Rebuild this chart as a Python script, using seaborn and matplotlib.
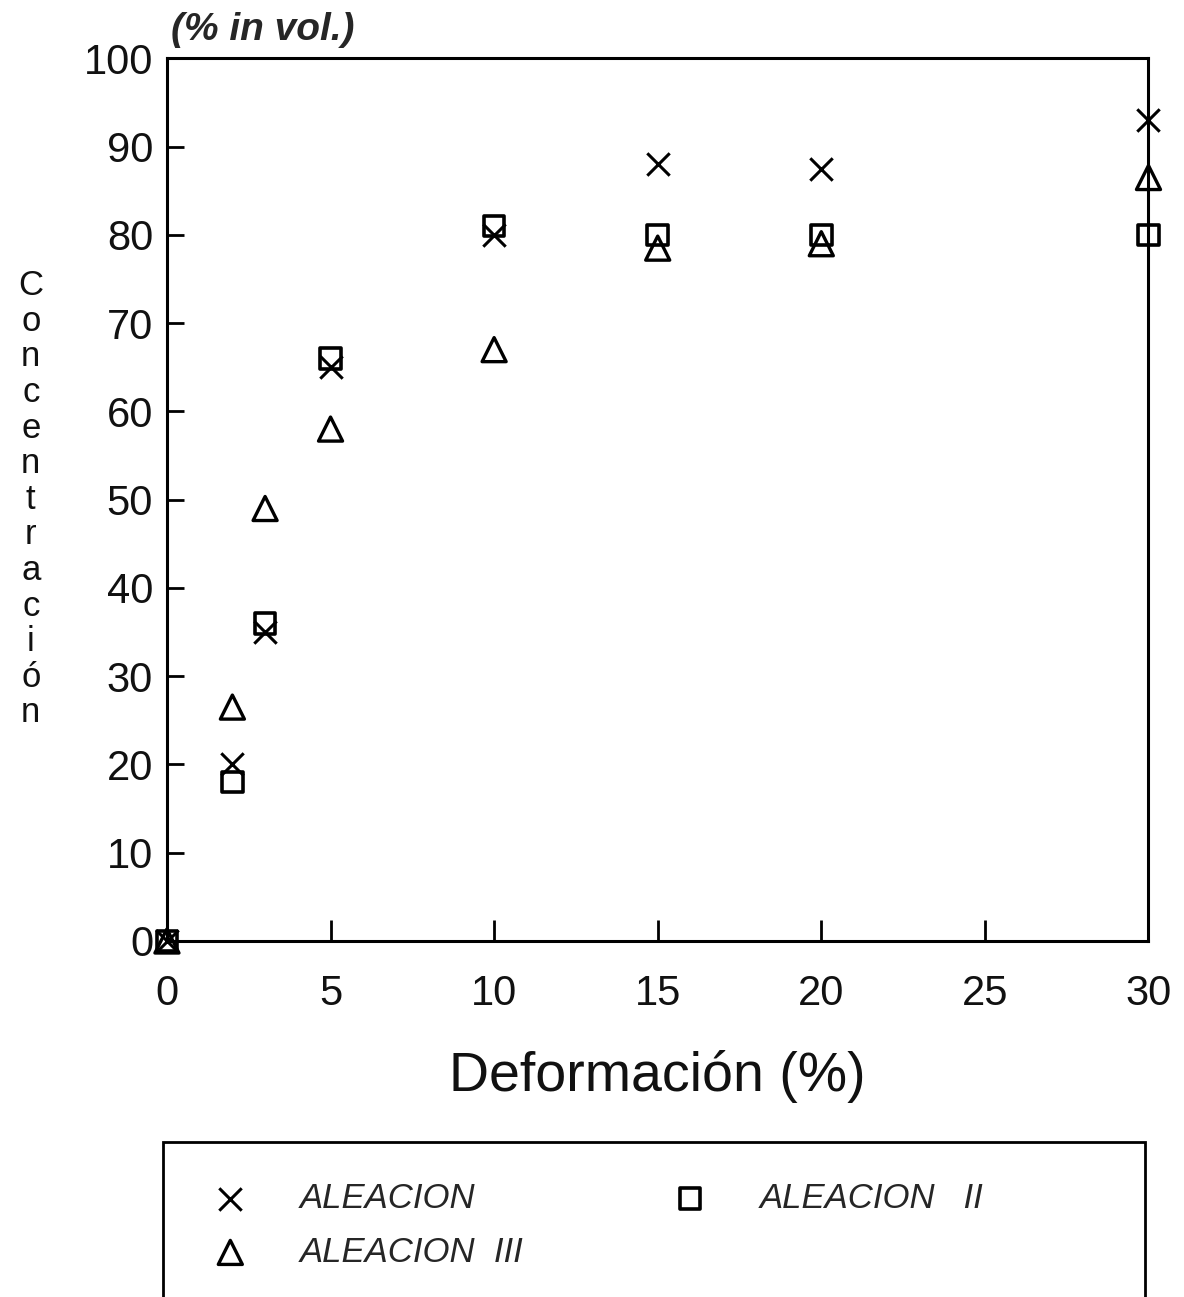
import pandas as pd
import matplotlib
matplotlib.use("Agg")
import matplotlib.pyplot as plt
import seaborn as sns
from matplotlib.patches import Rectangle

# data
deformacion = [0, 2, 3, 5, 10, 15, 20, 30]
aleacion_1 = [0, 20, 35, 65, 80, 88, 87.5, 93]
aleacion_2 = [0, 18, 36, 66, 81, 80, 80, 80]
aleacion_3 = [0, 26.5, 49, 58, 67, 78.5, 79, 86.5]
x_ticks = [0, 5, 10, 15, 20, 25, 30]
y_ticks = [0, 10, 20, 30, 40, 50, 60, 70, 80, 90, 100]

sns.set_theme(style="white")
plt.rcParams["font.family"] = ["Liberation Sans", "DejaVu Sans"]

fig = plt.figure(figsize=(11.84, 12.97), dpi=100)
ax = fig.add_axes([0.141, 0.2745, 0.829, 0.6805])

sns.scatterplot(x=deformacion, y=aleacion_1, ax=ax, marker="x", s=260,
                color="black", linewidth=2.2, label="ALEACION", zorder=3,
                clip_on=False)
sns.scatterplot(x=deformacion, y=aleacion_3, ax=ax, marker="^", s=300,
                color="black", facecolor="none", edgecolor="black",
                linewidth=2.4, label="ALEACION  III", zorder=3, clip_on=False)
sns.scatterplot(x=deformacion, y=aleacion_2, ax=ax, marker="s", s=220,
                color="black", facecolor="none", edgecolor="black",
                linewidth=2.6, label="ALEACION   II", zorder=3, clip_on=False)

ax.set_xlim(0, 30)
ax.set_ylim(0, 100)
ax.set_xticks(x_ticks)
ax.set_yticks(y_ticks)
ax.set_xticklabels([str(t) for t in x_ticks])
ax.set_yticklabels([str(t) for t in y_ticks])
ax.tick_params(axis="both", direction="in", length=12, width=2, colors="black",
               labelsize=30, labelcolor="#111111", bottom=True, left=True)
ax.tick_params(axis="x", pad=24, length=15)
ax.tick_params(axis="y", pad=10)
for sp in ax.spines.values():
    sp.set_color("black")
    sp.set_linewidth(2.2)
ax.grid(False)

ax.set_xlabel("Deformación (%)", fontsize=40, color="#111111", labelpad=26)
ax.set_ylabel("")
fig.text(0.026, 0.615, "\n".join("Concentración"), ha="center", va="center",
         fontsize=25, linespacing=1.1, color="#111111")
ax.text(0.004, 1.012, "(% in vol.)", transform=ax.transAxes, fontsize=28,
        fontweight="bold", fontstyle="italic", ha="left", va="bottom")

# legend box, open at the bottom of the page
handles, labels = ax.get_legend_handles_labels()
ax.get_legend().remove()
fig.patches.append(Rectangle((0.138, -0.05), 0.829, 0.05 + 0.1195,
                             transform=fig.transFigure, fill=False,
                             edgecolor="black", linewidth=2))
fig.legend(handles, labels, ncol=2, loc="upper left",
           bbox_to_anchor=(0.152, 0.113), frameon=False,
           prop={"size": 25, "style": "italic"}, columnspacing=4.25,
           handletextpad=1.45, labelspacing=0.6, handlelength=1.1,
           markerscale=1.0)

fig.savefig("out.png", dpi=100, facecolor="white")
